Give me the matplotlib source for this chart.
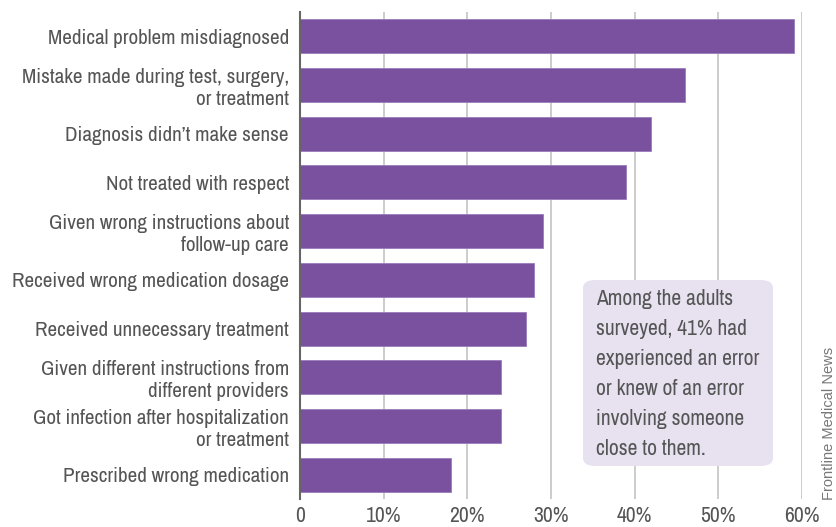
import matplotlib.pyplot as plt
from matplotlib import font_manager
from matplotlib.patches import FancyBboxPatch

# survey data (percent of respondents), top to bottom
labels = [
    "Medical problem misdiagnosed",
    "Mistake made during test, surgery,\nor treatment",
    "Diagnosis didn\u2019t make sense",
    "Not treated with respect",
    "Given wrong instructions about\nfollow-up care",
    "Received wrong medication dosage",
    "Received unnecessary treatment",
    "Given different instructions from\ndifferent providers",
    "Got infection after hospitalization\nor treatment",
    "Prescribed wrong medication",
]
values = [59, 46, 42, 39, 29, 28, 27, 24, 24, 18]
xticks = [0, 10, 20, 30, 40, 50, 60]
xtick_labels = ["0", "10%", "20%", "30%", "40%", "50%", "60%"]

note = ("Among the adults\nsurveyed, 41% had\nexperienced an error\n"
        "or knew of an error\ninvolving someone\nclose to them.")
credit = "Frontline Medical News"

purple = "#7a519e"
grey_text = "#555555"
W, H = 836, 527

# look for a narrow face, the original uses a condensed grotesque
names = {f.name for f in font_manager.fontManager.ttflist}
narrow = [n for n in names if 'Narrow' in n or 'Condensed' in n]
if 'Liberation Sans Narrow' in names:
    fam = 'Liberation Sans Narrow'
elif narrow:
    fam = sorted(narrow)[0]
else:
    fam = 'DejaVu Sans'
plt.rcParams['font.family'] = [fam, 'DejaVu Sans']
plt.rcParams['font.stretch'] = 'condensed'

fig = plt.figure(figsize=(W / 100, H / 100), dpi=100)
ax = fig.add_axes([300 / W, 1 - 499 / H, 502 / W, 487 / H])

pos = list(range(len(values)))
ax.barh(pos, values, height=0.70, color=purple, edgecolor="#9a7cbc",
        linewidth=0.6, zorder=3)
ax.set_ylim(len(values) - 0.5, -0.5)
ax.set_xlim(0, 60)

ax.set_yticks(pos)
ax.set_yticklabels(labels, fontsize=15.2, color=grey_text, linespacing=1.2)
ax.set_xticks(xticks)
ax.set_xticklabels(xtick_labels, fontsize=15.5, color=grey_text)
ax.tick_params(axis='both', length=0)
ax.tick_params(axis='y', pad=8)
ax.tick_params(axis='x', pad=5)

ax.grid(axis='x', color="#c8c8c8", linewidth=1.3, zorder=0)
for s in ['top', 'right', 'bottom']:
    ax.spines[s].set_visible(False)
ax.spines['left'].set_color("#666666")
ax.spines['left'].set_linewidth(1.5)
ax.spines['left'].set_zorder(4)

# note box
box = FancyBboxPatch((583 / W, 1 - 466 / H), 190 / W, 186 / H,
                     boxstyle="round,pad=0,rounding_size=0.015",
                     transform=fig.transFigure, facecolor="#e7e1f0",
                     edgecolor="none", zorder=5)
fig.patches.append(box)
fig.text(596 / W, 1 - 289 / H, note, fontsize=15.5, color=grey_text,
         va='top', ha='left', linespacing=1.62, zorder=6)

fig.text(829 / W, 1 - 500 / H, credit, rotation=90, fontsize=10.5,
         family=['Liberation Sans', 'DejaVu Sans'], stretch='normal',
         color="#777777", ha='center', va='bottom')

fig.savefig("out.png", dpi=100)
